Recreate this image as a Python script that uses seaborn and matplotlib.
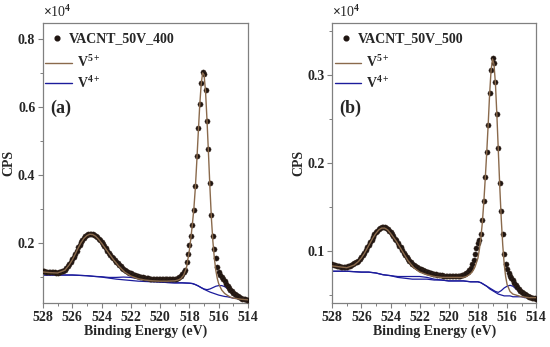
import numpy as np
import pandas as pd
import matplotlib
matplotlib.use("Agg")
import matplotlib.pyplot as plt
from matplotlib.ticker import MultipleLocator, FormatStrFormatter
import seaborn as sns

# ---------------- data (CPS in units of 1e4) ----------------
energy = [528.0, 527.9, 527.8, 527.7, 527.6, 527.5, 527.4, 527.3, 527.2, 527.1,
          527.0, 526.9, 526.8, 526.7, 526.6, 526.5, 526.4, 526.3, 526.2, 526.1,
          526.0, 525.9, 525.8, 525.7, 525.6, 525.5, 525.4, 525.3, 525.2, 525.1,
          525.0, 524.9, 524.8, 524.7, 524.6, 524.5, 524.4, 524.3, 524.2, 524.1,
          524.0, 523.9, 523.8, 523.7, 523.6, 523.5, 523.4, 523.3, 523.2, 523.1,
          523.0, 522.9, 522.8, 522.7, 522.6, 522.5, 522.4, 522.3, 522.2, 522.1,
          522.0, 521.9, 521.8, 521.7, 521.6, 521.5, 521.4, 521.3, 521.2, 521.1,
          521.0, 520.9, 520.8, 520.7, 520.6, 520.5, 520.4, 520.3, 520.2, 520.1,
          520.0, 519.9, 519.8, 519.7, 519.6, 519.5, 519.4, 519.3, 519.2, 519.1,
          519.0, 518.9, 518.8, 518.7, 518.6, 518.5, 518.4, 518.3, 518.2, 518.1,
          518.0, 517.9, 517.8, 517.7, 517.6, 517.5, 517.4, 517.3, 517.2, 517.1,
          517.0, 516.9, 516.8, 516.7, 516.6, 516.5, 516.4, 516.3, 516.2, 516.1,
          516.0, 515.9, 515.8, 515.7, 515.6, 515.5, 515.4, 515.3, 515.2, 515.1,
          515.0, 514.9, 514.8, 514.7, 514.6, 514.5, 514.4, 514.3, 514.2, 514.1,
          514.0]

cps_400 = [0.118, 0.117, 0.116, 0.116, 0.115, 0.115, 0.114, 0.114, 0.114, 0.113,
           0.113, 0.114, 0.115, 0.117, 0.119, 0.122, 0.127, 0.132, 0.138, 0.145,
           0.152, 0.160, 0.169, 0.178, 0.187, 0.195, 0.203, 0.210, 0.216, 0.221,
           0.224, 0.226, 0.227, 0.227, 0.226, 0.225, 0.222, 0.218, 0.213, 0.208,
           0.202, 0.196, 0.190, 0.184, 0.178, 0.172, 0.166, 0.160, 0.155, 0.150,
           0.145, 0.140, 0.136, 0.132, 0.128, 0.124, 0.121, 0.118, 0.115, 0.113,
           0.111, 0.109, 0.107, 0.105, 0.104, 0.102, 0.101, 0.100, 0.099, 0.098,
           0.097, 0.096, 0.096, 0.095, 0.095, 0.095, 0.094, 0.094, 0.094, 0.094,
           0.094, 0.093, 0.093, 0.093, 0.093, 0.093, 0.093, 0.093, 0.093, 0.094,
           0.094, 0.095, 0.097, 0.100, 0.104, 0.109, 0.114, 0.121, 0.145, 0.169,
           0.194, 0.221, 0.252, 0.296, 0.367, 0.455, 0.537, 0.609, 0.670, 0.703,
           0.696, 0.650, 0.560, 0.476, 0.376, 0.282, 0.220, 0.182, 0.155, 0.131,
           0.114, 0.107, 0.100, 0.094, 0.088, 0.081, 0.075, 0.069, 0.063, 0.058,
           0.054, 0.050, 0.047, 0.044, 0.041, 0.039, 0.037, 0.036, 0.035, 0.034,
           0.033]

cps_500 = [0.085, 0.084, 0.084, 0.083, 0.083, 0.083, 0.082, 0.082, 0.082, 0.082,
           0.082, 0.083, 0.083, 0.084, 0.085, 0.086, 0.087, 0.088, 0.089, 0.091,
           0.093, 0.095, 0.098, 0.101, 0.104, 0.107, 0.110, 0.113, 0.116, 0.119,
           0.121, 0.123, 0.125, 0.126, 0.127, 0.127, 0.127, 0.126, 0.125, 0.123,
           0.121, 0.119, 0.117, 0.114, 0.112, 0.109, 0.106, 0.104, 0.101, 0.098,
           0.095, 0.093, 0.091, 0.089, 0.087, 0.085, 0.084, 0.083, 0.082, 0.081,
           0.080, 0.079, 0.078, 0.077, 0.077, 0.076, 0.076, 0.075, 0.075, 0.074,
           0.074, 0.074, 0.073, 0.073, 0.073, 0.073, 0.072, 0.072, 0.072, 0.072,
           0.072, 0.072, 0.072, 0.072, 0.072, 0.072, 0.072, 0.072, 0.072, 0.073,
           0.073, 0.074, 0.075, 0.076, 0.078, 0.081, 0.085, 0.090, 0.096, 0.103,
           0.109, 0.113, 0.119, 0.135, 0.157, 0.184, 0.212, 0.243, 0.279, 0.306,
           0.319, 0.314, 0.292, 0.256, 0.217, 0.177, 0.145, 0.119, 0.097, 0.085,
           0.079, 0.075, 0.072, 0.069, 0.067, 0.064, 0.061, 0.059, 0.057, 0.055,
           0.053, 0.052, 0.051, 0.050, 0.049, 0.048, 0.048, 0.047, 0.047, 0.047,
           0.046]

# fitted components (a)
fit_x_a = [528.0, 527.5, 527.0, 526.5, 526.2, 526.0, 525.8, 525.6, 525.4, 525.2,
           525.0, 524.8, 524.6, 524.4, 524.2, 524.0, 523.6, 523.2, 522.8, 522.4,
           522.0, 521.5, 521.0, 520.5, 520.0, 519.5, 519.0, 518.8, 518.6, 518.4,
           518.2, 518.0, 517.9, 517.8, 517.7, 517.6, 517.5, 517.4, 517.3, 517.2,
           517.1, 517.0, 516.9, 516.8, 516.7, 516.6, 516.5, 516.4, 516.3, 516.2,
           516.1, 516.0, 515.8, 515.6, 515.4, 515.2, 515.0, 514.5, 514.0]
v5_a = [0.115, 0.113, 0.112, 0.120, 0.136, 0.150, 0.167, 0.185, 0.201, 0.214,
        0.222, 0.226, 0.225, 0.220, 0.211, 0.200, 0.176, 0.152, 0.131, 0.114,
        0.103, 0.095, 0.091, 0.089, 0.088, 0.088, 0.089, 0.091, 0.095, 0.105,
        0.128, 0.180, 0.215, 0.255, 0.300, 0.360, 0.438, 0.522, 0.603, 0.666,
        0.700, 0.694, 0.645, 0.560, 0.463, 0.362, 0.272, 0.205, 0.155, 0.120,
        0.096, 0.080, 0.062, 0.052, 0.046, 0.041, 0.038, 0.035, 0.033]

comp_x_a = [528.0, 527.0, 526.0, 525.5, 525.0, 524.5, 524.0, 523.5, 523.0, 522.5,
            522.0, 521.5, 521.0, 520.5, 520.0, 519.5, 519.0, 518.5, 518.0, 517.8,
            517.6, 517.4, 517.2, 517.0, 516.8, 516.6, 516.4, 516.2, 516.0, 515.8,
            515.6, 515.4, 515.2, 515.0, 514.8, 514.5, 514.0]
bkg_a = [0.106, 0.106, 0.106, 0.105, 0.104, 0.102, 0.100, 0.097, 0.094, 0.092,
         0.090, 0.088, 0.087, 0.086, 0.085, 0.084, 0.083, 0.083, 0.082, 0.081,
         0.078, 0.074, 0.069, 0.064, 0.060, 0.056, 0.053, 0.050, 0.047, 0.045,
         0.043, 0.042, 0.040, 0.038, 0.037, 0.035, 0.033]
v4_a = [0.106, 0.106, 0.106, 0.105, 0.104, 0.102, 0.101, 0.099, 0.099, 0.100,
        0.099, 0.095, 0.091, 0.088, 0.086, 0.084, 0.083, 0.083, 0.082, 0.081,
        0.078, 0.074, 0.069, 0.065, 0.063, 0.065, 0.069, 0.073, 0.075, 0.075,
        0.072, 0.066, 0.058, 0.050, 0.044, 0.038, 0.033]

# fitted components (b)
fit_x_b = fit_x_a
v5_b = [0.083, 0.082, 0.081, 0.084, 0.088, 0.092, 0.097, 0.103, 0.109, 0.115,
        0.120, 0.124, 0.126, 0.126, 0.124, 0.120, 0.111, 0.100, 0.089, 0.081,
        0.076, 0.073, 0.071, 0.070, 0.070, 0.070, 0.070, 0.071, 0.073, 0.076,
        0.082, 0.092, 0.102, 0.115, 0.132, 0.155, 0.182, 0.211, 0.243, 0.278,
        0.305, 0.318, 0.312, 0.290, 0.254, 0.213, 0.172, 0.136, 0.107, 0.085,
        0.071, 0.062, 0.054, 0.051, 0.050, 0.049, 0.048, 0.047, 0.047]
comp_x_b = comp_x_a
bkg_b = [0.077, 0.077, 0.076, 0.076, 0.075, 0.073, 0.072, 0.070, 0.069, 0.068,
         0.068, 0.068, 0.067, 0.067, 0.066, 0.066, 0.066, 0.065, 0.065, 0.064,
         0.062, 0.060, 0.057, 0.055, 0.053, 0.051, 0.050, 0.049, 0.049, 0.049,
         0.048, 0.048, 0.048, 0.048, 0.047, 0.047, 0.047]
v4_b = [0.077, 0.077, 0.076, 0.076, 0.075, 0.073, 0.072, 0.071, 0.071, 0.071,
        0.071, 0.070, 0.068, 0.067, 0.066, 0.066, 0.066, 0.065, 0.065, 0.064,
        0.062, 0.060, 0.058, 0.056, 0.054, 0.053, 0.055, 0.058, 0.060, 0.061,
        0.060, 0.057, 0.054, 0.051, 0.049, 0.048, 0.047]

sample_labels = ["VACNT_50V_400", "VACNT_50V_500"]
component_labels = [r'V$^{\mathbf{5+}}$', r'V$^{\mathbf{4+}}$']
panel_tags = ["(a)", "(b)"]
y_limits = [(0.024, 0.847), (0.041, 0.359)]
y_major = [0.2, 0.1]
y_minor = [0.1, 0.05]

# ---------------- style ----------------
sns.set_style("ticks")
plt.rcParams['font.family'] = ['Liberation Serif', 'DejaVu Serif']
plt.rcParams['font.weight'] = 'bold'
plt.rcParams['mathtext.fontset'] = 'custom'
plt.rcParams['mathtext.rm'] = 'Liberation Serif'
plt.rcParams['mathtext.bf'] = 'Liberation Serif:bold'
plt.rcParams['mathtext.it'] = 'Liberation Serif:italic'

BROWN = '#8a6a4c'
BLUE = '#1c1c9c'
DOT = '#1e1410'
SPINE = '#808080'

fig = plt.figure(figsize=(5.5, 3.47), dpi=100)
axes = [fig.add_axes([0.078, 0.127, 0.373, 0.807]),
        fig.add_axes([0.604, 0.127, 0.371, 0.807])]

datasets = [
    (cps_400, fit_x_a, v5_a, comp_x_a, bkg_a, v4_a),
    (cps_500, fit_x_b, v5_b, comp_x_b, bkg_b, v4_b),
]

for i, ax in enumerate(axes):
    cps, fx, v5, cx, bkg, v4 = datasets[i]
    df = pd.DataFrame({'E': energy, 'CPS': cps})
    dfv5 = pd.DataFrame({'E': fx, 'I': v5})
    dfb = pd.DataFrame({'E': cx, 'I': bkg})
    dfv4 = pd.DataFrame({'E': cx, 'I': v4})

    sns.lineplot(data=dfb, x='E', y='I', ax=ax, sort=False, color=BLUE, lw=0.9,
                 estimator=None, zorder=2)
    sns.lineplot(data=dfv4, x='E', y='I', ax=ax, sort=False, color=BLUE, lw=0.9,
                 estimator=None, zorder=2)
    sns.scatterplot(data=df, x='E', y='CPS', ax=ax, color=DOT, s=14,
                    edgecolor='#3a2a20', linewidth=0.3, zorder=3)
    sns.lineplot(data=dfv5, x='E', y='I', ax=ax, sort=False, color=BROWN, lw=1.0,
                 estimator=None, zorder=4)

    ax.set_xlim(528, 514)
    ax.set_ylim(*y_limits[i])
    ax.xaxis.set_major_locator(MultipleLocator(2))
    ax.xaxis.set_minor_locator(MultipleLocator(1))
    ax.yaxis.set_major_locator(MultipleLocator(y_major[i]))
    ax.yaxis.set_minor_locator(MultipleLocator(y_minor[i]))
    ax.xaxis.set_major_formatter(FormatStrFormatter('%d'))
    ax.yaxis.set_major_formatter(FormatStrFormatter('%.1f'))
    ax.tick_params(which='major', direction='out', length=3.5, width=0.8,
                   color=SPINE, labelsize=10, pad=2)
    ax.tick_params(which='minor', direction='out', length=2, width=0.7, color=SPINE)
    for lab in ax.get_xticklabels() + ax.get_yticklabels():
        lab.set_fontweight('bold')
    for sp in ax.spines.values():
        sp.set_visible(True)
        sp.set_color(SPINE)
        sp.set_linewidth(0.9)

    ax.set_xlabel('Binding Energy (eV)', fontsize=10, fontweight='bold', labelpad=1)
    ax.set_ylabel('CPS', fontsize=10, fontweight='bold', labelpad=1.5)

    ax.text(0.0, 1.012, r'$\times$10$^{4}$', transform=ax.transAxes,
            ha='left', va='bottom', fontsize=10, fontweight='normal')
    ax.text(0.035, 0.695, panel_tags[i], transform=ax.transAxes,
            ha='left', va='center', fontsize=13, fontweight='bold')

    # legend: data entry
    h_data = [plt.Line2D([], [], ls='none', marker='o', ms=3.4, color=DOT)]
    leg1 = ax.legend(h_data, [sample_labels[i]], loc='upper left',
                     bbox_to_anchor=(0.036, 0.966), frameon=False,
                     handlelength=1.0, handletextpad=0.35, borderpad=0,
                     borderaxespad=0, prop={'weight': 'bold', 'size': 10})
    ax.add_artist(leg1)
    # legend: component entries
    h_comp = [plt.Line2D([], [], color=BROWN, lw=1.0),
              plt.Line2D([], [], color=BLUE, lw=1.0)]
    ax.legend(h_comp, component_labels, loc='upper left',
              bbox_to_anchor=(0.012, 0.887), frameon=False,
              handlelength=1.9, handletextpad=0.35, labelspacing=0.3,
              borderpad=0, borderaxespad=0,
              prop={'weight': 'bold', 'size': 10})

fig.savefig('out.png', dpi=100)
